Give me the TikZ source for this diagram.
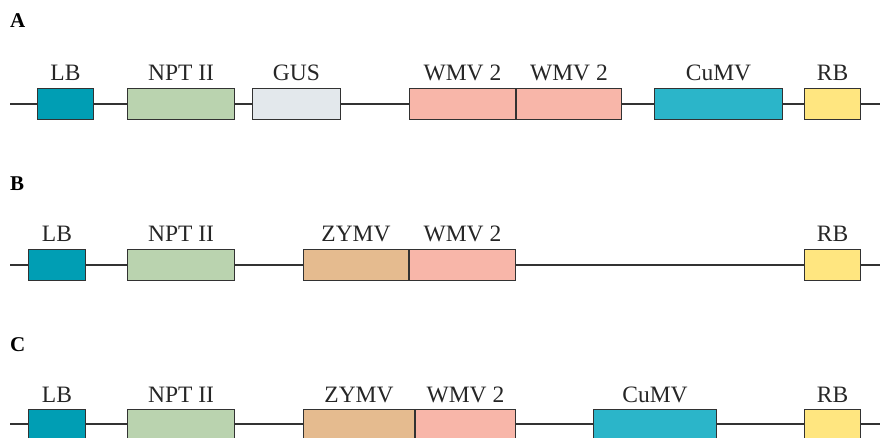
\documentclass[tikz,border=0pt]{standalone}
\usepackage{fontspec}
\setmainfont{Liberation Serif}
\definecolor{lbc}{RGB}{0,158,180}
\definecolor{nptc}{RGB}{186,211,175}
\definecolor{gusc}{RGB}{227,232,236}
\definecolor{wmvc}{RGB}{248,182,169}
\definecolor{cumvc}{RGB}{43,181,201}
\definecolor{rbc}{RGB}{255,230,128}
\definecolor{zymvc}{RGB}{229,187,143}
\definecolor{edgec}{RGB}{50,50,50}
\tikzset{
  gene/.style={draw=edgec, line width=1.4pt, minimum height=31pt, inner sep=0pt, outer sep=0pt},
  lab/.style={anchor=base, inner sep=0pt, font=\fontsize{23.5}{27}\selectfont, text=black!85},
  panel/.style={anchor=base west, inner sep=0pt, font=\fontsize{21}{25}\selectfont\bfseries},
  backbone/.style={draw=edgec, line width=1.3pt}
}
\newcommand{\genebox}[5]{% name, x1, x2, ycenter, colour
  \node[gene, fill=#5, minimum width={#3-#2-1.4}] (#1) at ({(#2+#3)/2},#4) {};}
\begin{document}
\begin{tikzpicture}[x=1pt,y=-1pt]
\useasboundingbox (0,0) rectangle (880,438);
\clip (0,0) rectangle (880,438);
% ---------- Row A ----------
\node[panel] (pA) at (10,28) {A};
\coordinate (sA) at (10,104);
\coordinate (eA) at (882,104);
\genebox{a1}{37}{94}{104}{lbc}
\genebox{a2}{127}{235}{104}{nptc}
\genebox{a3}{252}{341}{104}{gusc}
\genebox{a4}{409}{516}{104}{wmvc}
\genebox{a5}{516}{622}{104}{wmvc}
\genebox{a6}{654}{783}{104}{cumvc}
\genebox{a7}{804}{861}{104}{rbc}
\draw[backbone] (sA) -- (a1.west);
\draw[backbone] (a1.east) -- (a2.west);
\draw[backbone] (a2.east) -- (a3.west);
\draw[backbone] (a3.east) -- (a4.west);
\draw[backbone] (a5.east) -- (a6.west);
\draw[backbone] (a6.east) -- (a7.west);
\draw[backbone] (a7.east) -- (eA);
\node[lab] (la1) at (a1.center |- 0,81) {LB};
\node[lab] (la2) at (a2.center |- 0,81) {NPT II};
\node[lab] (la3) at (a3.center |- 0,81) {GUS};
\node[lab] (la4) at (a4.center |- 0,81) {WMV 2};
\node[lab] (la5) at (a5.center |- 0,81) {WMV 2};
\node[lab] (la6) at (a6.center |- 0,81) {CuMV};
\node[lab] (la7) at (a7.center |- 0,81) {RB};
% ---------- Row B ----------
\node[panel] (pB) at (10,191) {B};
\coordinate (sB) at (10,265);
\coordinate (eB) at (882,265);
\genebox{b1}{28}{86}{265}{lbc}
\genebox{b2}{127}{235}{265}{nptc}
\genebox{b3}{303}{409}{265}{zymvc}
\genebox{b4}{409}{516}{265}{wmvc}
\genebox{b5}{804}{861}{265}{rbc}
\draw[backbone] (sB) -- (b1.west);
\draw[backbone] (b1.east) -- (b2.west);
\draw[backbone] (b2.east) -- (b3.west);
\draw[backbone] (b4.east) -- (b5.west);
\draw[backbone] (b5.east) -- (eB);
\node[lab] (lb1) at (b1.center |- 0,242) {LB};
\node[lab] (lb2) at (b2.center |- 0,242) {NPT II};
\node[lab] (lb3) at (b3.center |- 0,242) {ZYMV};
\node[lab] (lb4) at (b4.center |- 0,242) {WMV 2};
\node[lab] (lb5) at (b5.center |- 0,242) {RB};
% ---------- Row C ----------
\node[panel] (pC) at (10,351) {C};
\coordinate (sC) at (10,424);
\coordinate (eC) at (882,424);
\genebox{c1}{28}{86}{425}{lbc}
\genebox{c2}{127}{235}{425}{nptc}
\genebox{c3}{303}{415}{425}{zymvc}
\genebox{c4}{415}{516}{425}{wmvc}
\genebox{c5}{593}{717}{425}{cumvc}
\genebox{c6}{804}{861}{425}{rbc}
\draw[backbone] (sC) -- (sC -| c1.west);
\draw[backbone] (c1.east |- sC) -- (c2.west |- sC);
\draw[backbone] (c2.east |- sC) -- (c3.west |- sC);
\draw[backbone] (c4.east |- sC) -- (c5.west |- sC);
\draw[backbone] (c5.east |- sC) -- (c6.west |- sC);
\draw[backbone] (c6.east |- sC) -- (eC);
\node[lab] (lc1) at (c1.center |- 0,402) {LB};
\node[lab] (lc2) at (c2.center |- 0,402) {NPT II};
\node[lab] (lc3) at (c3.center |- 0,402) {ZYMV};
\node[lab] (lc4) at (c4.center |- 0,402) {WMV 2};
\node[lab] (lc5) at (c5.center |- 0,402) {CuMV};
\node[lab] (lc6) at (c6.center |- 0,402) {RB};
\end{tikzpicture}
\end{document}
